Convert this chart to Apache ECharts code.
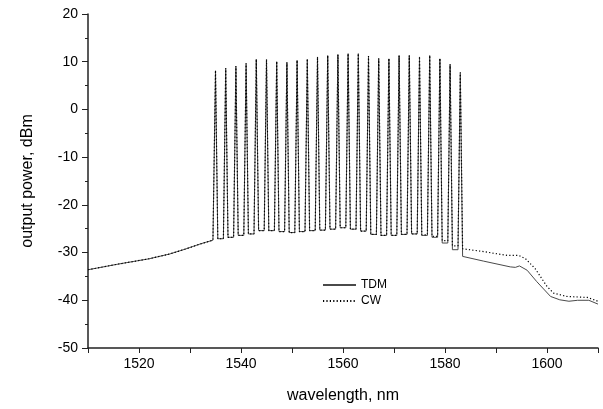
<!DOCTYPE html>
<html>
<head>
<meta charset="utf-8">
<script src="https://cdn.jsdelivr.net/npm/echarts@6/dist/echarts.min.js"></script>
<style>
html,body{margin:0;padding:0;background:#fff;}
#chart{width:603px;height:409px;}
</style>
</head>
<body>
<div id="chart"></div>
<script>
// ---- data ----
const channels = [1535,1537,1539,1541,1543,1545,1547,1549,1551,1553,1555,1557,1559,1561,1563,1565,1567,1569,1571,1573,1575,1577,1579,1581,1583];
const peakTDM = [8.1,8.6,9.0,9.6,10.5,10.4,10.0,9.8,10.3,10.5,11.0,11.3,11.5,11.7,11.7,11.2,10.6,10.6,11.3,11.3,11.0,11.3,10.6,9.4,7.7];
const peakCW  = [8.2,8.7,9.1,9.7,10.5,10.5,10.1,9.9,10.3,10.6,11.0,11.3,11.5,11.7,11.7,11.2,10.7,10.7,11.3,11.3,11.1,11.3,10.7,9.5,7.8];
// valley floor between consecutive channels
const floorTDM = [-27.1,-26.8,-26.4,-26.1,-25.4,-25.4,-25.6,-25.8,-25.6,-25.4,-25.3,-25.1,-24.8,-25.1,-25.5,-26.2,-26.4,-26.4,-26.2,-26.1,-26.4,-26.8,-28.0,-29.4];
const floorCW  = [-27.1,-26.8,-26.4,-26.1,-25.4,-25.4,-25.6,-25.8,-25.6,-25.4,-25.3,-25.1,-24.8,-25.1,-25.5,-26.2,-26.4,-26.4,-26.2,-26.1,-26.3,-26.6,-27.5,-28.6];
// spectrum below the band (shared)
const leadX = [1510,1516,1522,1526,1529,1532,1534.5];
const leadY = [-33.6,-32.4,-31.3,-30.3,-29.3,-28.2,-27.4];
// spectrum above the band
const tailTDMX = [1583.6,1587.6,1592.8,1593.8,1594.6,1596.1,1598,1600.7,1602.5,1604.3,1606,1608.2,1610];
const tailTDMY = [-30.8,-31.8,-33.0,-33.1,-32.8,-33.7,-36.1,-39.2,-39.9,-40.2,-40.0,-40.0,-40.8];
const tailCWX = [1583.8,1587.6,1592.2,1594.5,1595.8,1597.7,1600,1601.3,1603.9,1607.9,1610];
const tailCWY = [-29.2,-29.8,-30.6,-30.6,-31.3,-33.4,-37.1,-38.5,-39.2,-39.4,-40.2];
const spikeHalfWidth = 0.45; // nm, half width of each channel line at its base
const xTicks = [1520,1540,1560,1580,1600];

function buildTrace(peaks, floors, tx, ty) {
  const pts = [];
  for (let i = 0; i < leadX.length; i++) pts.push([leadX[i], leadY[i]]);
  for (let i = 0; i < channels.length; i++) {
    const left = i === 0 ? leadY[leadY.length - 1] : floors[i - 1];
    const right = i < channels.length - 1 ? floors[i] : ty[0];
    pts.push([channels[i] - spikeHalfWidth, left]);
    pts.push([channels[i], peaks[i]]);
    pts.push([channels[i] + spikeHalfWidth, right]);
  }
  for (let i = 0; i < tx.length; i++) pts.push([tx[i], ty[i]]);
  return pts;
}

const FONT = '"Liberation Sans", Arial, sans-serif';
const chart = echarts.init(document.getElementById('chart'), null, {renderer: 'canvas'});
chart.setOption({
  animation: false,
  backgroundColor: '#ffffff',
  grid: {left: 88, right: 5, top: 14, bottom: 57, containLabel: false},
  legend: {
    orient: 'vertical', left: 322, top: 279, padding: 0,
    itemWidth: 33, itemHeight: 14, itemGap: 4,
    itemStyle: {opacity: 0},
    textStyle: {fontFamily: FONT, fontSize: 12, color: '#000', padding: [0,0,0,0]},
    data: ['TDM', 'CW']
  },
  xAxis: {
    type: 'value', min: 1510, max: 1610, interval: 10,
    name: 'wavelength, nm', nameLocation: 'middle', nameGap: 40,
    nameTextStyle: {fontFamily: FONT, fontSize: 16, color: '#000'},
    axisLine: {show: true, onZero: false, lineStyle: {color: '#222', width: 1.5}},
    axisTick: {show: true, inside: false, length: 5, lineStyle: {color: '#222', width: 1}},
    axisLabel: {
      fontFamily: FONT, fontSize: 14, color: '#000', margin: 9,
      formatter: v => (xTicks.indexOf(v) >= 0 ? String(v) : '')
    },
    splitLine: {show: false}
  },
  yAxis: {
    type: 'value', min: -50, max: 20, interval: 10,
    name: 'output power, dBm', nameLocation: 'middle', nameGap: 52,
    nameTextStyle: {fontFamily: FONT, fontSize: 16, color: '#000'},
    axisLine: {show: true, onZero: false, lineStyle: {color: '#222', width: 1.5}},
    axisTick: {show: true, inside: false, length: 6, lineStyle: {color: '#222', width: 1}},
    minorTick: {show: true, splitNumber: 2, length: 3, lineStyle: {color: '#222', width: 1}},
    axisLabel: {fontFamily: FONT, fontSize: 14, color: '#000', margin: 10},
    splitLine: {show: false}
  },
  series: [
    {
      name: 'TDM', type: 'line', symbol: 'none', smooth: false,
      lineStyle: {color: '#4a4a4a', width: 1},
      itemStyle: {color: '#4a4a4a'},
      data: buildTrace(peakTDM, floorTDM, tailTDMX, tailTDMY)
    },
    {
      name: 'CW', type: 'line', symbol: 'none', smooth: false,
      lineStyle: {color: '#000', width: 1.2, type: [1.2, 2.2]},
      itemStyle: {color: '#000'},
      data: buildTrace(peakCW, floorCW, tailCWX, tailCWY)
    }
  ]
});
</script>
</body>
</html>
